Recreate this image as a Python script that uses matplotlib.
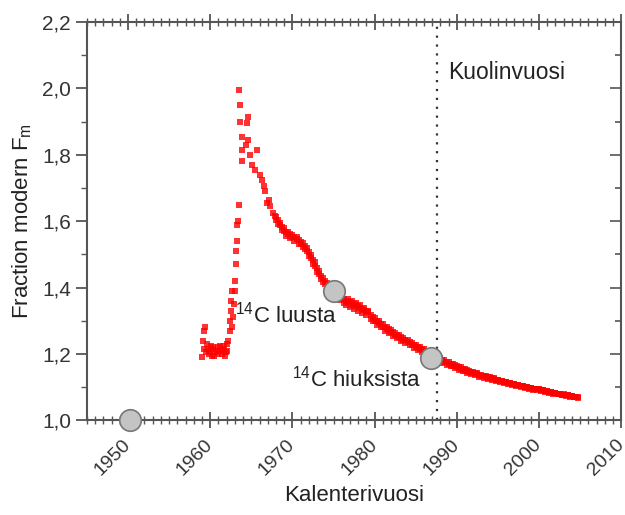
import matplotlib
matplotlib.use("Agg")
import matplotlib.pyplot as plt
from matplotlib.ticker import MultipleLocator, FuncFormatter

plt.rcParams['font.family'] = ['Liberation Sans', 'DejaVu Sans']
plt.rcParams['mathtext.fontset'] = 'custom'
plt.rcParams['mathtext.rm'] = 'Liberation Sans'
plt.rcParams['mathtext.it'] = 'Liberation Sans:italic'

# bomb-peak rise, 1959-1968 (scattered points)
rise_year = [1959.0, 1959.1, 1959.2, 1959.3, 1959.4, 1959.5, 1959.6, 1959.8, 1960.0, 1960.2,
             1960.4, 1960.6, 1960.8, 1961.0, 1961.2, 1961.4, 1961.6, 1961.8, 1962.0, 1962.1,
             1962.2, 1962.35, 1962.45, 1962.5, 1962.55, 1962.6, 1962.7, 1962.8, 1962.9, 1963.0,
             1963.05, 1963.1, 1963.15, 1963.2, 1963.3, 1963.4, 1963.45, 1963.45, 1963.65, 1963.65,
             1963.9, 1963.9, 1963.9, 1964.3, 1964.5, 1964.6, 1964.6, 1964.8, 1965.1, 1965.5,
             1965.7, 1966.0, 1966.3, 1966.5, 1966.7, 1966.9, 1967.1, 1967.3, 1967.6, 1967.9,
             1959.7, 1960.1, 1960.5, 1960.9, 1961.3, 1961.7, 1961.9, 1960.3]
rise_f = [1.190, 1.240, 1.270, 1.215, 1.280, 1.205, 1.230, 1.200, 1.210, 1.195,
          1.220, 1.205, 1.210, 1.200, 1.225, 1.200, 1.215, 1.195, 1.230, 1.210,
          1.240, 1.270, 1.300, 1.330, 1.360, 1.390, 1.280, 1.310, 1.350, 1.390,
          1.420, 1.470, 1.510, 1.540, 1.590, 1.600, 1.650, 1.995, 1.950, 1.900,
          1.855, 1.815, 1.780, 1.830, 1.895, 1.915, 1.845, 1.800, 1.770, 1.755,
          1.815, 1.740, 1.725, 1.705, 1.690, 1.655, 1.665, 1.645, 1.625, 1.615,
          1.215, 1.225, 1.195, 1.220, 1.210, 1.225, 1.205, 1.215]

# decline after the peak, 1968-2005
band_year = [1968.00, 1968.25, 1968.50, 1968.75, 1969.00, 1969.25, 1969.50, 1969.75,
             1970.00, 1970.25, 1970.50, 1970.75, 1971.00, 1971.25, 1971.50, 1971.75,
             1972.00, 1972.25, 1972.50, 1972.75, 1973.00, 1973.25, 1973.50, 1973.75,
             1974.00, 1974.25, 1974.50, 1974.75, 1975.00, 1975.25, 1975.50, 1975.75,
             1976.00, 1976.25, 1976.50, 1976.75, 1977.00, 1977.25, 1977.50, 1977.75,
             1978.00, 1978.25, 1978.50, 1978.75, 1979.00, 1979.25, 1979.50, 1979.75,
             1980.00, 1980.25, 1980.50, 1980.75, 1981.00, 1981.25, 1981.50, 1981.75,
             1982.00, 1982.25, 1982.50, 1982.75, 1983.00, 1983.25, 1983.50, 1983.75,
             1984.00, 1984.25, 1984.50, 1984.75, 1985.00, 1985.25, 1985.50, 1985.75,
             1986.00, 1986.25, 1986.50, 1986.75, 1987.00, 1987.25, 1987.50, 1987.75,
             1988.00, 1988.25, 1988.50, 1988.75, 1989.00, 1989.25, 1989.50, 1989.75,
             1990.00, 1990.25, 1990.50, 1990.75, 1991.00, 1991.25, 1991.50, 1991.75,
             1992.00, 1992.25, 1992.50, 1992.75, 1993.00, 1993.25, 1993.50, 1993.75,
             1994.00, 1994.25, 1994.50, 1994.75, 1995.00, 1995.25, 1995.50, 1995.75,
             1996.00, 1996.25, 1996.50, 1996.75, 1997.00, 1997.25, 1997.50, 1997.75,
             1998.00, 1998.25, 1998.50, 1998.75, 1999.00, 1999.25, 1999.50, 1999.75,
             2000.00, 2000.25, 2000.50, 2000.75, 2001.00, 2001.25, 2001.50, 2001.75,
             2002.00, 2002.25, 2002.50, 2002.75, 2003.00, 2003.25, 2003.50, 2003.75,
             2004.00, 2004.25, 2004.50, 2004.75]
band_f = [1.605, 1.592, 1.588, 1.572, 1.570, 1.556, 1.560, 1.548,
          1.552, 1.540, 1.546, 1.532, 1.530, 1.522, 1.515, 1.510,
          1.495, 1.488, 1.470, 1.466, 1.448, 1.440, 1.425, 1.418,
          1.410, 1.405, 1.398, 1.392, 1.385, 1.378, 1.372, 1.362,
          1.366, 1.352, 1.348, 1.356, 1.342, 1.348, 1.336, 1.345,
          1.330, 1.338, 1.322, 1.332, 1.318, 1.325, 1.305, 1.298,
          1.300, 1.288, 1.292, 1.280, 1.282, 1.270, 1.274, 1.262,
          1.266, 1.255, 1.258, 1.247, 1.250, 1.240, 1.243, 1.233,
          1.236, 1.226, 1.228, 1.218, 1.222, 1.212, 1.214, 1.205,
          1.208, 1.199, 1.201, 1.192, 1.195, 1.186, 1.188, 1.180,
          1.183, 1.174, 1.176, 1.168, 1.170, 1.162, 1.165, 1.157,
          1.159, 1.152, 1.154, 1.147, 1.149, 1.142, 1.145, 1.138,
          1.141, 1.135, 1.138, 1.131, 1.134, 1.128, 1.131, 1.124,
          1.127, 1.121, 1.124, 1.118, 1.121, 1.115, 1.118, 1.112,
          1.114, 1.109, 1.112, 1.106, 1.109, 1.103, 1.106, 1.100,
          1.103, 1.098, 1.100, 1.095, 1.098, 1.092, 1.095, 1.090,
          1.093, 1.087, 1.090, 1.085, 1.088, 1.082, 1.085, 1.080,
          1.083, 1.078, 1.080, 1.076, 1.078, 1.073, 1.076, 1.071,
          1.074, 1.069, 1.071, 1.067]
# upper edge of the band (second measurement row)
band_f_upper = [1.614, 1.603, 1.596, 1.584, 1.578, 1.568, 1.566, 1.560,
                1.558, 1.552, 1.552, 1.544, 1.538, 1.534, 1.524, 1.520,
                1.506, 1.498, 1.482, 1.476, 1.460, 1.450, 1.436, 1.428,
                1.420, 1.414, 1.406, 1.400, 1.394, 1.388, 1.380, 1.374,
                1.372, 1.366, 1.360, 1.364, 1.356, 1.358, 1.350, 1.352,
                1.344, 1.346, 1.336, 1.338, 1.328, 1.330, 1.316, 1.310,
                1.308, 1.300, 1.298, 1.290, 1.290, 1.282, 1.280, 1.274,
                1.272, 1.266, 1.264, 1.258, 1.256, 1.250, 1.249, 1.243,
                1.242, 1.236, 1.234, 1.228, 1.228, 1.221, 1.220, 1.214,
                1.214, 1.208, 1.207, 1.201, 1.200, 1.195, 1.194, 1.189,
                1.188, 1.183, 1.182, 1.177, 1.176, 1.171, 1.170, 1.166,
                1.165, 1.160, 1.159, 1.155, 1.154, 1.150, 1.149, 1.145,
                1.145, 1.141, 1.141, 1.137, 1.137, 1.133, 1.133, 1.129,
                1.129, 1.126, 1.126, 1.122, 1.122, 1.119, 1.119, 1.116,
                1.116, 1.113, 1.113, 1.110, 1.110, 1.107, 1.107, 1.104,
                1.104, 1.101, 1.101, 1.098, 1.098, 1.095, 1.095, 1.093,
                1.093, 1.090, 1.090, 1.087, 1.087, 1.085, 1.085, 1.082,
                1.082, 1.080, 1.080, 1.077, 1.077, 1.075, 1.075, 1.073,
                1.073, 1.071, 1.071, 1.069]

# grey sample points
sample_year = [1950.3, 1975.0, 1986.8]
sample_f = [1.000, 1.390, 1.187]

death_year = 1987.6

fig = plt.figure(figsize=(6.25, 5.15), dpi=100)
ax = fig.add_axes([0.139, 0.184, 0.855, 0.773])

red = dict(linestyle='none', marker='s', markersize=5.0, color='#ff0000',
           markeredgewidth=0, alpha=0.8, clip_on=False)
ax.plot(rise_year, rise_f, **red)
ax.plot(band_year, band_f, **red)
ax.plot(band_year, band_f_upper, **red)

ax.axvline(death_year, color='#333333', linestyle=(0, (1, 3)), linewidth=1.6)

ax.plot(sample_year, sample_f, linestyle='none', marker='o', markersize=15.5,
        markerfacecolor='#c4c4c4', markeredgecolor='#777777', markeredgewidth=1.2,
        clip_on=False, zorder=5)

ax.text(1963.0, 1.318, r'$^{14}$C luusta', fontsize=16, va='center', ha='left', color='#222222')
ax.text(1969.9, 1.127, r'$^{14}$C hiuksista', fontsize=16, va='center', ha='left', color='#222222')
ax.text(1988.9, 2.048, 'Kuolinvuosi', fontsize=16.5, va='center', ha='left', color='#222222')

ax.set_xlim(1945, 2010)
ax.set_ylim(1.0, 2.2)
ax.xaxis.set_major_locator(MultipleLocator(10))
ax.xaxis.set_minor_locator(MultipleLocator(1))
ax.yaxis.set_major_locator(MultipleLocator(0.2))
ax.yaxis.set_minor_locator(MultipleLocator(0.1))
ax.yaxis.set_major_formatter(FuncFormatter(lambda v, p: f'{v:.1f}'.replace('.', ',')))

for s in ax.spines.values():
    s.set_color('#555555')
    s.set_linewidth(1.5)

ax.tick_params(axis='both', which='both', colors='#555555', labelcolor='#333333', labelsize=15)
ax.tick_params(axis='x', which='major', direction='inout', length=12, width=1.3, top=True,
               labelsize=14, pad=10)
ax.tick_params(axis='x', which='minor', direction='inout', length=6, width=1.0, top=True)
ax.tick_params(axis='y', which='major', direction='out', length=8, width=1.3, right=False)
ax.tick_params(axis='y', which='minor', direction='out', length=4, width=1.0, right=False)
plt.setp(ax.get_xticklabels(), rotation=45, ha='right', va='center', rotation_mode='anchor')

# mirrored inward ticks on the right side
ax2 = ax.twinx()
ax2.set_ylim(ax.get_ylim())
ax2.yaxis.set_major_locator(MultipleLocator(0.2))
ax2.yaxis.set_minor_locator(MultipleLocator(0.1))
ax2.tick_params(axis='y', which='both', direction='in', colors='#555555', labelright=False, width=1.2)
ax2.tick_params(axis='y', which='major', length=8)
ax2.tick_params(axis='y', which='minor', length=4)
for s in ax2.spines.values():
    s.set_visible(False)

ax.set_xlabel('Kalenterivuosi', fontsize=16, color='#222222', labelpad=4)
ax.set_ylabel(r'Fraction modern F$_\mathrm{m}$', fontsize=16, color='#222222', labelpad=6)

fig.savefig('out.png', dpi=100)
